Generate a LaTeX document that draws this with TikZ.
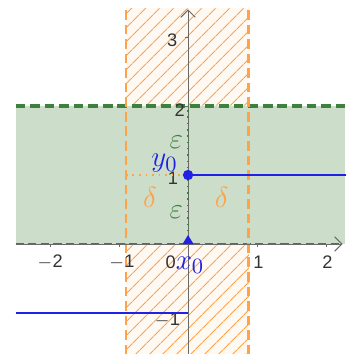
\documentclass[tikz,border=0pt]{standalone}
\usepackage{fontspec}
\setsansfont{Liberation Sans}
\usetikzlibrary{patterns.meta, arrows.meta}

\definecolor{bandgreen}{RGB}{204,222,202}
\definecolor{linegreen}{RGB}{62,128,62}
\definecolor{stripor}{RGB}{255,162,72}
\definecolor{ptblue}{RGB}{32,32,230}
\definecolor{axisgray}{RGB}{105,105,105}

\tikzset{
  ticklab/.style={font=\sffamily\fontsize{7.5}{8}\selectfont, text=black!80, inner sep=0pt},
  greeklab/.style={font=\fontsize{12.5}{13}\selectfont, inner sep=0pt},
  stripedge/.style={stripor, line width=1.4pt, dash pattern=on 4pt off 2pt},
  bandedge/.style={linegreen, line width=1.4pt, dash pattern=on 4pt off 2pt},
  graphline/.style={ptblue, line width=0.8pt}
}

\begin{document}
\begin{tikzpicture}[scale=1.0]

  \useasboundingbox (-2.725,-1.594) rectangle (2.304,3.536);

  % -- Hatched strip |x - x0| < delta --
  \fill[stripor!6] (-0.9,-1.6) rectangle (0.88,3.42);
  \fill[pattern={Lines[angle=45, distance=4pt, line width=0.45pt]}, pattern color=stripor] (-0.9,-1.6) rectangle (0.88,3.42);

  % -- Band |y - y0| < epsilon --
  \fill[bandgreen] (-2.5,0) rectangle (2.27,2);
  \draw[bandedge] (-2.5,2) -- (2.27,2);
  \draw[linegreen, line width=0.9pt, dash pattern=on 3.4pt off 1.8pt] (-2.5,0) -- (2.2,0);

  % -- Strip edges --
  \draw[stripedge, line width=1.1pt] (-0.9,-1.6) -- (-0.9,3.42);
  \draw[stripedge] (0.88,-1.6) -- (0.88,3.42);

  % -- Axes --
  \draw[axisgray, line width=0.4pt, -{Straight Barb[length=3pt, width=6pt]}] (-2.5,0) -- (2.24,0);
  \draw[axisgray, line width=0.4pt, -{Straight Barb[length=3pt, width=6pt]}] (0,-1.6) -- (0,3.4);
  \foreach \t in {-2,-1,1,2}
    \draw[axisgray, line width=0.4pt] (\t,0) -- (\t,-0.05);
  \foreach \t in {-1,1,2,3}
    \draw[axisgray, line width=0.4pt] (0,\t) -- (-0.05,\t);
  \draw[linegreen, line width=0.6pt, dotted] (0,0) -- (0,2);

  % Tick labels
  \node[ticklab] (xm2) at (-2.0,-0.27) {$-$2};
  \node[ticklab] (xm1) at (-0.96,-0.27) {$-$1};
  \node[ticklab] (xz) at (-0.25,-0.27) {0};
  \node[ticklab] (xp1) at (1.02,-0.27) {1};
  \node[ticklab] (xp2) at (2.02,-0.27) {2};
  \node[ticklab] (ym1) at (-0.3,-1.1) {$-$1};
  \node[ticklab] (yp1) at (-0.22,0.96) {1};
  \node[ticklab] (yp2) at (-0.12,1.94) {2};
  \node[ticklab] (yp3) at (-0.23,2.96) {3};

  % -- Point (x0, y0) --
  \coordinate (x0) at (0,0);
  \coordinate (p0) at (0,1);
  \coordinate (dleft) at (-0.9,1);
  \draw[stripor, line width=0.7pt, dotted] (dleft) -- (p0);

  % -- Graph of the step function --
  \draw[graphline] (-2.5,-1) -- (0,-1);
  \draw[graphline] (p0) -- (2.29,1);
  \fill[ptblue] (p0) circle (0.075);
  \fill[ptblue] ([yshift=0.13cm]x0) -- ([xshift=-0.08cm]x0) -- ([xshift=0.08cm]x0) -- cycle;

  % Labels
  \node[greeklab, text=ptblue] (labx0) at (0.03,-0.31) {$x_0$};
  \node[greeklab, text=ptblue] (laby0) at (-0.34,1.17) {$y_0$};
  \node[greeklab, text=linegreen] (epsup) at (-0.17,1.48) {$\varepsilon$};
  \node[greeklab, text=linegreen] (epsdn) at (-0.17,0.46) {$\varepsilon$};
  \node[greeklab, text=stripor] (delleft) at (-0.55,0.68) {$\delta$};
  \node[greeklab, text=stripor] (delright) at (0.49,0.68) {$\delta$};

\end{tikzpicture}
\end{document}
